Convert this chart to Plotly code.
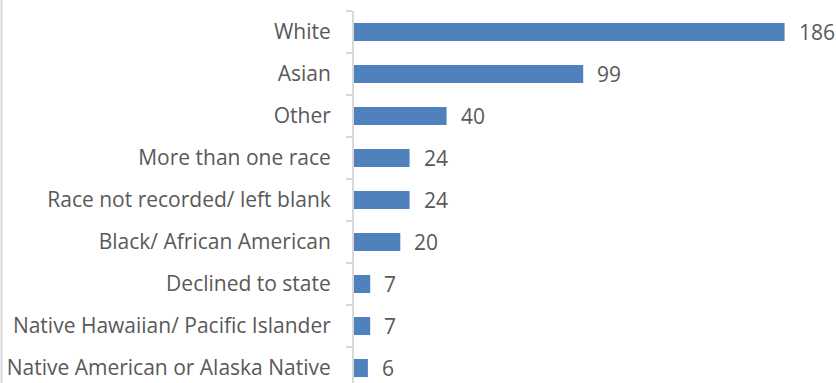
import plotly.graph_objects as go

categories = [
    "White",
    "Asian",
    "Other",
    "More than one race",
    "Race not recorded/ left blank",
    "Black/ African American",
    "Declined to state",
    "Native Hawaiian/ Pacific Islander",
    "Native American or Alaska Native",
]
counts = [186, 99, 40, 24, 24, 20, 7, 7, 6]

BAR_COLOR = "#4F81BD"
TEXT_COLOR = "#595959"
LINE_COLOR = "#D9D9D9"
FONT = "Open Sans"
FONT_SIZE = 21

fig = go.Figure(
    go.Bar(
        x=counts,
        y=categories,
        orientation="h",
        marker=dict(color=BAR_COLOR, line=dict(width=0)),
        width=0.43,
        hoverinfo="skip",
    )
)

# value labels just past the end of each bar
for cat, val in zip(categories, counts):
    fig.add_annotation(
        x=val, y=cat, text=str(val), showarrow=False,
        xanchor="left", yanchor="middle", xshift=12,
        font=dict(family=FONT, size=FONT_SIZE, color=TEXT_COLOR),
    )

# thin frame edge on the far left
fig.add_shape(
    type="line", xref="paper", yref="paper",
    x0=-352.5 / 463, x1=-352.5 / 463, y0=-0.1, y1=1.1,
    line=dict(color=LINE_COLOR, width=2),
)

fig.update_layout(
    width=836, height=383,
    margin=dict(l=354, r=19, t=11, b=0),
    paper_bgcolor="white", plot_bgcolor="white",
    showlegend=False,
    font=dict(family=FONT, size=FONT_SIZE, color=TEXT_COLOR),
)
fig.update_xaxes(
    range=[0, 200], visible=False, showgrid=False, zeroline=False,
)
fig.update_yaxes(
    type="category",
    range=[8.357, -0.5],
    showline=True, linecolor=LINE_COLOR, linewidth=2,
    ticks="outside", tickson="boundaries", ticklen=6, tickcolor=LINE_COLOR, tickwidth=2,
    ticklabelstandoff=17,
    showgrid=False, zeroline=False,
    tickfont=dict(family=FONT, size=FONT_SIZE, color=TEXT_COLOR),
)

fig.write_html("out.html")
